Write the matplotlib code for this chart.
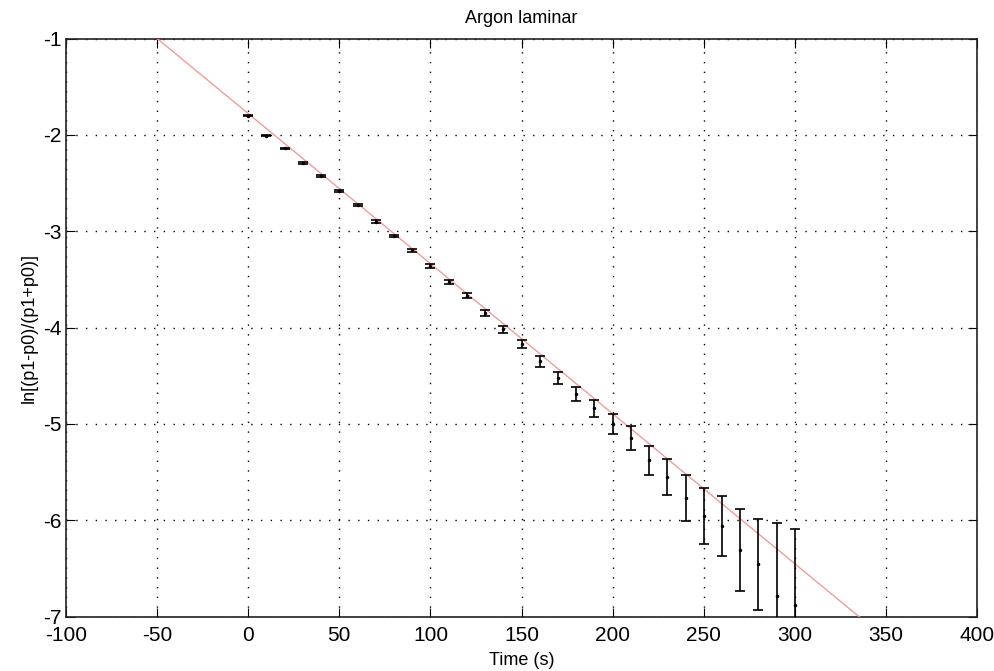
import numpy as np
import matplotlib
matplotlib.use("Agg")
import matplotlib.pyplot as plt

plt.rcParams['font.family'] = ['Liberation Sans', 'DejaVu Sans']
plt.rcParams['axes.unicode_minus'] = False

# measured data: time (s), log ratio, error
time_s = [0, 10, 20, 30, 40, 50, 60, 70, 80, 90, 100, 110, 120, 130, 140, 150,
          160, 170, 180, 190, 200, 210, 220, 230, 240, 250, 260, 270, 280, 290, 300]
log_ratio = [-1.80, -2.01, -2.14, -2.29, -2.43, -2.58, -2.73, -2.90, -3.05, -3.20,
             -3.36, -3.53, -3.67, -3.85, -4.02, -4.17, -4.35, -4.52, -4.69, -4.84,
             -5.00, -5.15, -5.38, -5.55, -5.77, -5.96, -6.06, -6.31, -6.46, -6.79, -6.88]
log_err = [0.005, 0.006, 0.007, 0.008, 0.009, 0.010, 0.011, 0.013, 0.014, 0.016,
           0.018, 0.021, 0.024, 0.028, 0.035, 0.045, 0.055, 0.062, 0.075, 0.088,
           0.105, 0.126, 0.154, 0.187, 0.234, 0.29, 0.31, 0.43, 0.47, 0.76, 0.79]

# linear fit coefficients
fit_slope = -0.01558
fit_intercept = -1.779

xticks = [-100, -50, 0, 50, 100, 150, 200, 250, 300, 350, 400]
yticks = [-7, -6, -5, -4, -3, -2, -1]

fig = plt.figure(figsize=(9.94, 6.71), dpi=100)
ax = fig.add_axes([0.0664, 0.0812, 0.9166, 0.8614])

xfit = np.array([-100, 400])
ax.plot(xfit, fit_slope * xfit + fit_intercept, color='#f49a9a', lw=1.0, zorder=3)

ax.errorbar(time_s, log_ratio, yerr=log_err, fmt='.', color='black', ms=3,
            ecolor='black', elinewidth=1.2, capsize=3.5, capthick=1.2, zorder=4)

ax.set_xlim(-100, 400)
ax.set_ylim(-7, -1)
ax.set_xticks(xticks)
ax.set_yticks(yticks)
ax.tick_params(direction='in', length=6.5, top=True, right=True, labelsize=15)
ax.tick_params(axis='x', pad=7)
ax.tick_params(axis='y', pad=3)
ax.grid(True, color='black', linestyle=(0, (1, 6)), linewidth=1.0)
for sp in ax.spines.values():
    sp.set_linewidth(1.2)
    sp.set_color('#222222')

ax.set_title('Argon laminar', fontsize=13, pad=11)
ax.set_xlabel('Time (s)', fontsize=13, labelpad=5)
ax.set_ylabel('ln[(p1-p0)/(p1+p0)]', fontsize=13, labelpad=4)

fig.savefig('out.png', dpi=100)
